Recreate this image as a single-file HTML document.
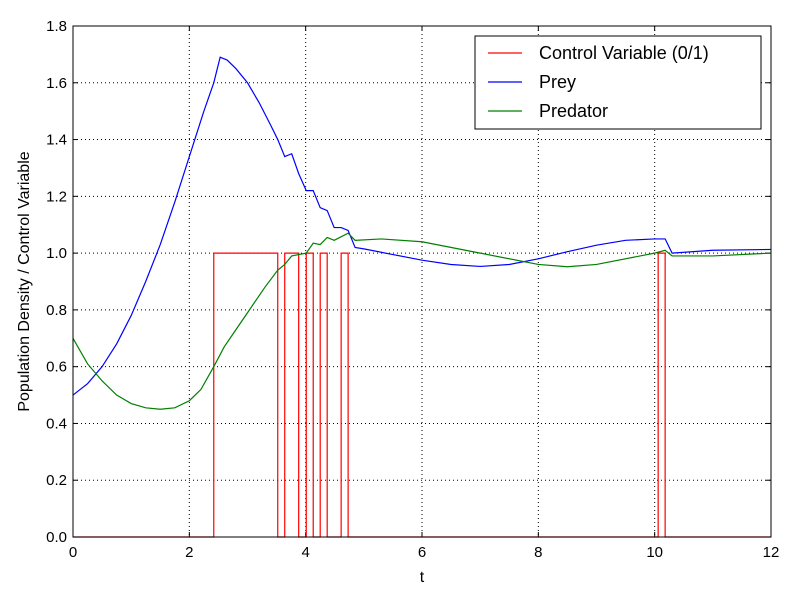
<!DOCTYPE html>
<html><head><meta charset="utf-8"><style>
body{margin:0;background:#fff;}
svg{display:block;font-family:"Liberation Sans",sans-serif;}
</style></head><body>
<svg id="chart" width="800" height="600"></svg>
<script>
const xTicks=[0,2,4,6,8,10,12];
const yTicks=[0.0,0.2,0.4,0.6,0.8,1.0,1.2,1.4,1.6,1.8];
const switchTimes=[2.42,3.52,3.64,3.88,4.01,4.13,4.25,4.37,4.61,4.73,10.06,10.18];
const preyT=[0,0.25,0.5,0.75,1,1.25,1.5,1.75,2,2.25,2.42,2.53,2.65,2.8,3,3.2,3.4,3.52,3.64,3.76,3.88,4.01,4.13,4.25,4.37,4.49,4.61,4.73,4.85,5,5.5,6,6.5,7,7.5,8,8.5,9,9.5,10,10.18,10.3,11,12];
const preyV=[0.5,0.54,0.6,0.68,0.78,0.9,1.03,1.18,1.34,1.5,1.6,1.69,1.68,1.65,1.6,1.53,1.45,1.4,1.34,1.35,1.28,1.22,1.22,1.16,1.15,1.09,1.09,1.08,1.02,1.015,0.995,0.975,0.96,0.953,0.96,0.98,1.005,1.028,1.045,1.05,1.05,1.0,1.01,1.013];
const predT=[0,0.25,0.5,0.75,1,1.25,1.5,1.75,2,2.2,2.42,2.6,2.8,3,3.3,3.52,3.64,3.76,4.01,4.13,4.25,4.37,4.49,4.73,4.85,5.3,6,7,8,8.5,9,10,10.18,10.3,11,12];
const predV=[0.7,0.61,0.55,0.5,0.47,0.455,0.45,0.455,0.48,0.52,0.6,0.67,0.73,0.79,0.88,0.94,0.96,0.99,1.0,1.035,1.03,1.055,1.045,1.07,1.045,1.05,1.04,1.0,0.96,0.952,0.96,1.0,1.01,0.99,0.99,1.0];
const L=73,R=771,T=26,B=537;
const sx=t=>L+(t-0)/12*(R-L);
const sy=v=>B-v/1.8*(B-T);
const NS="http://www.w3.org/2000/svg";
const svg=document.getElementById('chart');
function mk(tag,attrs,parent){const e=document.createElementNS(NS,tag);for(const k in attrs)e.setAttribute(k,attrs[k]);(parent||svg).appendChild(e);return e;}
xTicks.forEach(t=>{const g=mk('line',{x1:sx(t),x2:sx(t),y1:T,y2:B,stroke:'#000','stroke-dasharray':'1,3','stroke-width':1});


mk('line',{x1:sx(t),x2:sx(t),y1:B,y2:B-5,stroke:'#000'});
mk('line',{x1:sx(t),x2:sx(t),y1:T,y2:T+5,stroke:'#000'});
const lb=mk('text',{x:sx(t),y:B+20,'text-anchor':'middle','font-size':15});lb.textContent=t;

});
yTicks.forEach(v=>{const g=mk('line',{x1:L,x2:R,y1:sy(v),y2:sy(v),stroke:'#000','stroke-dasharray':'1,3','stroke-width':1});


mk('line',{x1:L,x2:L+5,y1:sy(v),y2:sy(v),stroke:'#000'});
mk('line',{x1:R,x2:R-5,y1:sy(v),y2:sy(v),stroke:'#000'});
const lb=mk('text',{x:L-6,y:sy(v)+5,'text-anchor':'end','font-size':15});lb.textContent=v.toFixed(1);

});
let pts=[[0,0]];let s=0;
switchTimes.forEach(t=>{pts.push([t,s]);s=1-s;pts.push([t,s]);});pts.push([12,s]);
const ctrl=mk('polyline',{points:pts.map(p=>sx(p[0])+','+sy(p[1])).join(' '),fill:'none',stroke:'#f00','stroke-width':1.2});


const prey=mk('polyline',{points:preyT.map((t,i)=>sx(t)+','+sy(preyV[i])).join(' '),fill:'none',stroke:'#00f','stroke-width':1.2});


const pred=mk('polyline',{points:predT.map((t,i)=>sx(t)+','+sy(predV[i])).join(' '),fill:'none',stroke:'#008000','stroke-width':1.2});


const frame=mk('rect',{x:L,y:T,width:R-L,height:B-T,fill:'none',stroke:'#000','stroke-width':1});


const xt=mk('text',{x:(L+R)/2,y:582,'text-anchor':'middle','font-size':16});xt.textContent='t';


const yt=mk('text',{x:0,y:0,'text-anchor':'middle','font-size':16,transform:'translate(29,'+((T+B)/2)+') rotate(-90)'});yt.textContent='Population Density / Control Variable';


const lg=mk('g',{});


mk('rect',{x:475,y:36,width:286,height:93,fill:'#fff',stroke:'#000','stroke-width':1},lg);
const entries=[['Control Variable (0/1)','#f00'],['Prey','#00f'],['Predator','#008000']];
entries.forEach((e,i)=>{const y=53+i*29;
const g=mk('g',{},lg);


mk('line',{x1:488,x2:522,y1:y,y2:y,stroke:e[1],'stroke-width':1.2},g);
const t=mk('text',{x:539,y:y+6,'font-size':18},g);t.textContent=e[0];});
</script>
</body></html>
